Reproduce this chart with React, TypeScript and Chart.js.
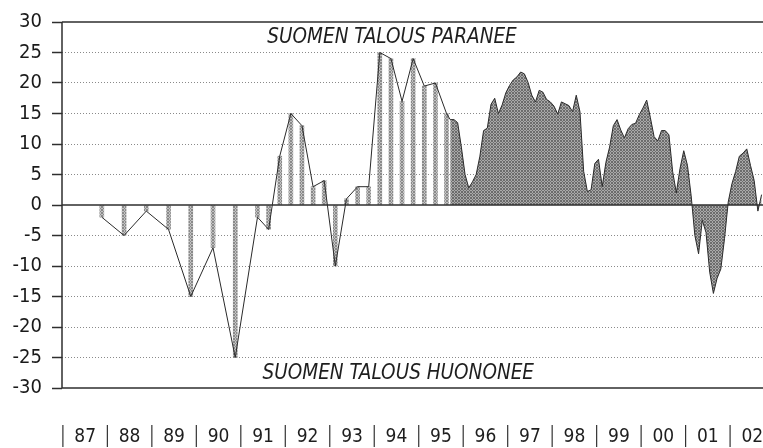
import React, { useEffect, useRef } from 'react';
import { Chart, registerables } from 'chart.js';

Chart.register(...registerables);

// ---- axis / labels ----
const yearLabels = ['87', '88', '89', '90', '91', '92', '93', '94', '95', '96', '97', '98', '99', '00', '01', '02'];
const yearStarts = [1987, 1988, 1989, 1990, 1991, 1992, 1993, 1994, 1995, 1996, 1997, 1998, 1999, 2000, 2001, 2002];
const yTickMin = -30;
const yTickMax = 30;
const yTickStep = 5;
const solidGridValues = [30, 0, -30];
const topNote = 'SUOMEN TALOUS PARANEE';
const bottomNote = 'SUOMEN TALOUS HUONONEE';

// ---- early survey (semi-annual, then quarterly): date as fractional year ----
const earlyDates = [
  1987.875, 1988.375, 1988.875, 1989.375, 1989.875, 1990.375, 1990.875,
  1991.375, 1991.625, 1991.875, 1992.125, 1992.375, 1992.625, 1992.875,
  1993.125, 1993.375, 1993.625, 1993.875, 1994.125, 1994.375, 1994.625,
  1994.875, 1995.125, 1995.375, 1995.625,
];
const earlyValues = [
  -2, -5, -1, -4, -15, -7, -25,
  -2, -4, 8, 15, 13, 3, 4,
  -10, 1, 3, 3, 25, 24, 17,
  24, 19.5, 20, 15,
];

// ---- monthly survey ----
const monthlyStartYear = 1995;
const monthlyStartMonth = 9; // September
const values1995 = [14, 14, 13.5, 9.5];
const values1996 = [5, 2.8, 3.8, 5, 8, 12.2, 12.6, 16.5, 17.5, 15, 16.4, 18.4];
const values1997 = [19.6, 20.5, 21, 21.8, 21.5, 20.1, 18, 16.9, 18.8, 18.5, 17.3, 16.9];
const values1998 = [16.2, 14.9, 16.9, 16.6, 16.3, 15.3, 18, 15.3, 5.5, 2.2, 2.5, 6.8];
const values1999 = [7.5, 3, 7, 9.5, 13, 14, 12.3, 11, 12.5, 13.2, 13.4, 14.8];
const values2000 = [15.9, 17.2, 14.3, 11.2, 10.5, 12.2, 12.2, 11.5, 5.5, 2, 6, 8.9];
const values2001 = [6.5, 1.5, -5, -8, -2.5, -4.5, -11, -14.5, -12, -10.5, -5.5, 0.5];
const values2002 = [3.5, 5.5, 8, 8.5, 9.2, 6.5, 4, -1, 1.7];

const monthlyValues = [
  ...values1995, ...values1996, ...values1997, ...values1998,
  ...values1999, ...values2000, ...values2001, ...values2002,
];

const FONT = "'Liberation Sans Narrow', 'DejaVu Sans Condensed', 'Liberation Sans', sans-serif";

function monthlyPoints() {
  return monthlyValues.map((v, i) => {
    const m = monthlyStartMonth - 1 + i;
    const year = monthlyStartYear + Math.floor(m / 12);
    const month = m % 12;
    return { x: year + (month + 0.5) / 12, y: v };
  });
}

function makePattern(light: string, dark: string, fallback: string): CanvasPattern | string {
  const c = document.createElement('canvas');
  c.width = 3;
  c.height = 3;
  const g = c.getContext('2d');
  if (!g) return fallback;
  g.fillStyle = light;
  g.fillRect(0, 0, 3, 3);
  g.fillStyle = dark;
  g.fillRect(0, 0, 1, 1);
  g.fillRect(1, 1, 1, 1);
  g.fillRect(2, 2, 1, 1);
  g.fillRect(2, 0, 1, 1);
  g.fillRect(0, 2, 1, 1);
  const p = g.createPattern(c, 'repeat');
  return p || fallback;
}

const decorPlugin = {
  id: 'decor',
  afterDatasetsDraw(chart: any) {
    const { ctx, chartArea, scales } = chart;
    const x = scales.x;
    const y = scales.y;
    ctx.save();
    // solid frame lines
    ctx.strokeStyle = '#2e2e2e';
    ctx.lineWidth = 1.5;
    for (const v of solidGridValues) {
      const py = y.getPixelForValue(v);
      ctx.beginPath();
      ctx.moveTo(chartArea.left, py);
      ctx.lineTo(chartArea.right, py);
      ctx.stroke();
    }
    ctx.beginPath();
    ctx.moveTo(chartArea.left, y.getPixelForValue(yTickMax));
    ctx.lineTo(chartArea.left, y.getPixelForValue(yTickMin));
    ctx.stroke();

    // notes
    ctx.fillStyle = '#1e1e1e';
    ctx.font = `italic 20.5px ${FONT}`;
    ctx.textAlign = 'center';
    ctx.textBaseline = 'middle';
    ctx.fillText(topNote, x.getPixelForValue(1994.4), y.getPixelForValue(27.4));
    ctx.fillText(bottomNote, x.getPixelForValue(1994.54), y.getPixelForValue(-27.6));

    // year separators and labels under the plot
    ctx.strokeStyle = '#333';
    ctx.lineWidth = 1.2;
    const sepTop = chartArea.bottom + 37;
    const sepBottom = chartArea.bottom + 59;
    ctx.font = `19px ${FONT}`;
    yearStarts.forEach((yr, i) => {
      const px = x.getPixelForValue(yr);
      ctx.beginPath();
      ctx.moveTo(px, sepTop);
      ctx.lineTo(px, sepBottom);
      ctx.stroke();
      ctx.fillText(yearLabels[i], x.getPixelForValue(yr + 0.5), chartArea.bottom + 49);
    });
    ctx.restore();
  },
};

export default function App() {
  const ref = useRef<HTMLCanvasElement | null>(null);

  useEffect(() => {
    if (!ref.current) return;
    const early = earlyDates.map((d, i) => ({ x: d, y: earlyValues[i] }));
    const monthly = monthlyPoints();
    const areaFill = makePattern('#a9a9a9', '#6c6c6c', '#8f8f8f');
    const barFill = makePattern('#c2c2c2', '#8a8a8a', '#a8a8a8');

    const chart = new Chart(ref.current, {
      type: 'line',
      data: {
        datasets: [
          {
            type: 'line',
            data: [...early, ...monthly],
            borderColor: '#2a2a2a',
            borderWidth: 1,
            pointRadius: 0,
            fill: false,
            tension: 0,
            order: 0,
          } as any,
          {
            type: 'bar',
            data: early,
            backgroundColor: barFill,
            borderWidth: 0,
            barThickness: 4,
            order: 1,
          } as any,
          {
            type: 'line',
            data: monthly,
            borderWidth: 0,
            borderColor: 'rgba(0,0,0,0)',
            backgroundColor: areaFill,
            pointRadius: 0,
            fill: 'origin',
            tension: 0,
            order: 2,
          } as any,
        ],
      },
      options: {
        animation: false,
        responsive: true,
        maintainAspectRatio: false,
        layout: { padding: { top: 15, bottom: 60, left: 0, right: 0 } },
        plugins: { legend: { display: false }, tooltip: { enabled: false }, title: { display: false } },
        scales: {
          x: {
            type: 'linear',
            display: false,
            min: 1986.98,
            max: 2002.74,
            offset: false,
          },
          y: {
            type: 'linear',
            min: yTickMin,
            max: yTickMax,
            afterFit: (scale: any) => {
              scale.width = 62;
            },
            ticks: {
              stepSize: yTickStep,
              padding: 10,
              color: '#1a1a1a',
              font: { family: FONT, size: 20 },
            },
            grid: {
              color: (c: any) =>
                c.tick && solidGridValues.includes(c.tick.value) ? 'rgba(0,0,0,0)' : '#8a8a8a',
              lineWidth: 1,
              tickLength: 10,
              tickColor: '#2e2e2e',
              tickWidth: 1.5,
              tickBorderDash: [],
            },
            border: { display: false, dash: [1, 2] },
          },
        },
      } as any,
      plugins: [decorPlugin],
    });
    return () => chart.destroy();
  }, []);

  return (
    <div style={{ position: 'absolute', left: 0, top: 0, width: 763, height: 448, background: '#fff' }}>
      <canvas ref={ref} />
    </div>
  );
}
